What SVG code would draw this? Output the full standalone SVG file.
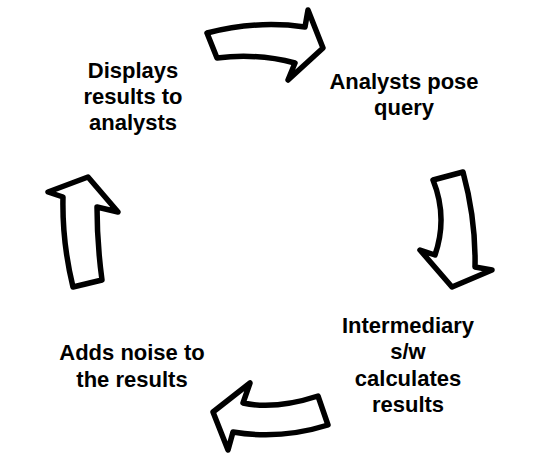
<svg xmlns="http://www.w3.org/2000/svg" width="534" height="472" viewBox="0 0 534 472">
<style>
.arr{fill:#fff;stroke:#000;stroke-width:5.5;stroke-linejoin:round}
.lbl{font-family:"Liberation Sans",Arial,sans-serif;font-weight:bold;font-size:22px;fill:#000;text-anchor:middle}
</style>
<rect width="534" height="472" fill="#fff"/>
<g id="connectors">
<path class="arr" d="M207,33 Q257,20 305,27 L308,10 L323,48 L288,80 L295,63 Q257,53 217,58 Z"/>
<path class="arr" d="M433,180 L463,172 Q476,220 475,267 L492,270 L452,287 L420,250 L435,255 Q448,217 433,180 Z"/>
<path class="arr" d="M318,396 L328,425 Q280,440 233,432 L228,450 L213,412 L250,383 L243,403 Q275,410 318,396 Z"/>
<path class="arr" d="M73,287 L102,280 Q97,243 97,207 L118,212 L88,177 L48,192 L63,197 Q62,242 73,287 Z"/>
</g>
<g id="node-query"><text class="lbl" x="404" y="89">Analysts pose</text><text class="lbl" x="404" y="115">query</text></g>
<g id="node-calc"><text class="lbl" x="408" y="333">Intermediary</text><text class="lbl" x="408" y="359">s/w</text><text class="lbl" x="408" y="386">calculates</text><text class="lbl" x="408" y="412">results</text></g>
<g id="node-noise"><text class="lbl" x="132" y="360">Adds noise to</text><text class="lbl" x="132" y="387">the results</text></g>
<g id="node-display"><text class="lbl" x="133" y="78">Displays</text><text class="lbl" x="133" y="104">results to</text><text class="lbl" x="133" y="130">analysts</text></g>
</svg>
